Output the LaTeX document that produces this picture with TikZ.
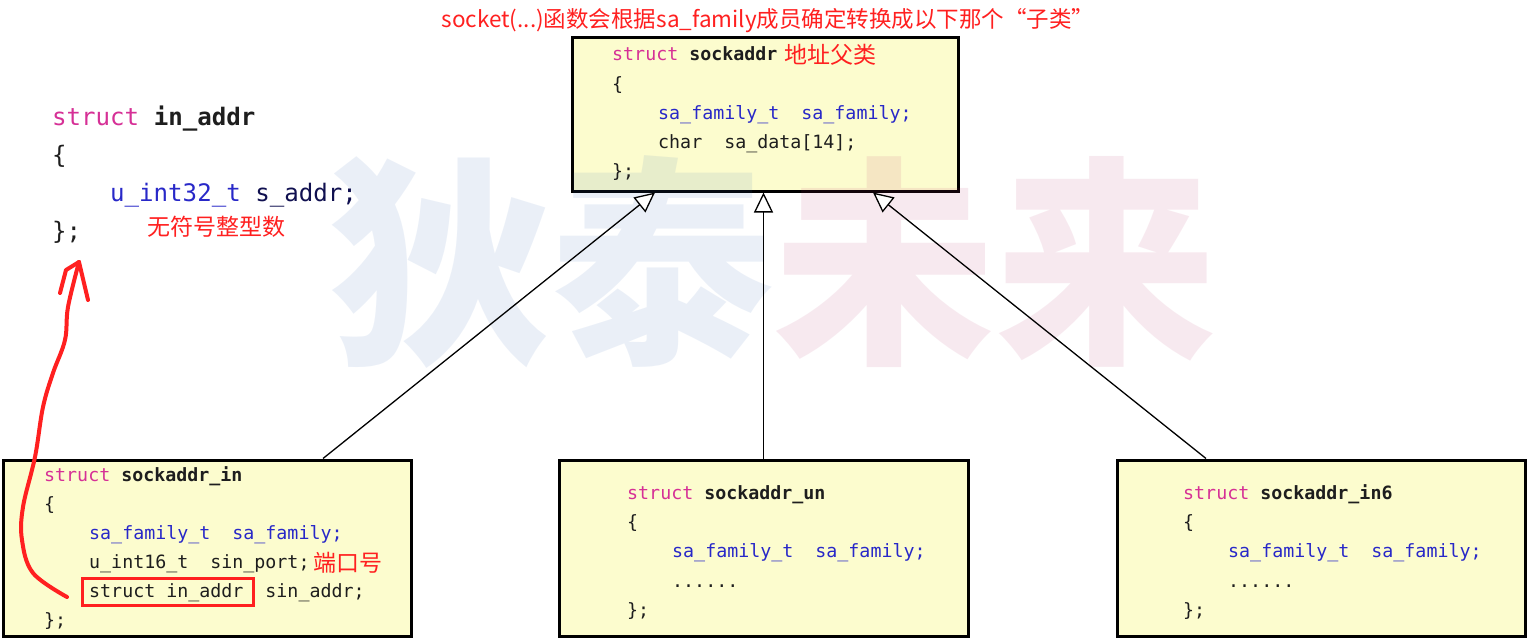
\documentclass[tikz,border=0pt]{standalone}
\usepackage{fontspec}
\setmonofont{DejaVu Sans Mono}
\newfontfamily\cjk{Noto Sans CJK SC}
\usetikzlibrary{arrows.meta,calc}
\definecolor{boxfill}{RGB}{252,252,206}
\definecolor{kw}{RGB}{214,48,150}
\definecolor{ty}{RGB}{40,40,200}
\definecolor{redmark}{RGB}{255,32,32}
\definecolor{wmblue}{RGB}{55,105,185}
\definecolor{wmpink}{RGB}{185,45,105}
\definecolor{navy}{RGB}{16,16,80}
\definecolor{codeblack}{RGB}{30,30,30}
\begin{document}
\begin{tikzpicture}[x=1pt,y=-1pt,
  classbox/.style={draw=black, line width=3pt, fill=boxfill, inner sep=0pt},
  code/.style={font=\ttfamily\fontsize{18.3}{20}\selectfont, text=codeblack, anchor=base west, inner sep=0pt},
  bigcode/.style={font=\ttfamily\fontsize{24.1}{28}\selectfont, text=codeblack, anchor=base west, inner sep=0pt},
  note/.style={font=\cjk\fontsize{23}{26}\selectfont, text=redmark, anchor=base west, inner sep=0pt},
  inherit/.style={draw=black, line width=1.3pt, -{Triangle[length=20pt,width=19pt,fill=white,line width=1.3pt]}},
  redline/.style={draw=redmark, line width=4pt, line cap=round, line join=round}]
\useasboundingbox (0,0) rectangle (1532,642);
\fill[white] (0,0) rectangle (1532,642);

% boxes
\node[classbox, minimum width=386pt, minimum height=153pt] (top) at (765,114.5) {};
\node[classbox, minimum width=408pt, minimum height=176pt] (bl) at (207,548) {};
\node[classbox, minimum width=409pt, minimum height=176pt] (mid) at (763.5,548) {};
\node[classbox, minimum width=408pt, minimum height=176pt] (br) at (1321,548) {};

% watermark
\node[font=\cjk\bfseries\fontsize{222}{222}\selectfont, text opacity=0.1, inner sep=0pt] (wm) at (773,262)
  {{\color{wmblue}狄泰}{\color{wmpink}未来}};

% title
\node[font=\cjk\fontsize{22.5}{26}\selectfont, text=redmark, anchor=base, inner sep=0pt] (title) at (768,28)
  {socket(...)函数会根据sa\_family成员确定转换成以下那个“子类”};

% top box text
\node[code] (t1) at (612,61) {\textcolor{kw}{struct} \textbf{sockaddr}};
\node[note] (t1n) at (784,64) {地址父类};
\node[code] (t2) at (612,90) {\{};
\node[code, text=ty] (t3) at (658,119) {sa\_family\_t\ \ sa\_family;};
\node[code] (t4) at (658,148) {char\ \ sa\_data[14];};
\node[code] (t5) at (612,177) {\};};

% left struct in_addr
\node[bigcode] (a1) at (52,125) {\textcolor{kw}{struct} \textbf{in\_addr}};
\node[bigcode] (a2) at (52,163) {\{};
\node[bigcode] (a3) at (110,201) {\textcolor{ty}{u\_int32\_t} \textcolor{navy}{s\_addr;}};
\node[bigcode] (a4) at (52,239) {\};};
\node[note] (a3n) at (147,235) {无符号整型数};

% bottom-left box
\node[code] (b1) at (44,481) {\textcolor{kw}{struct} \textbf{sockaddr\_in}};
\node[code] (b2) at (44,510) {\{};
\node[code, text=ty] (b3) at (89,539) {sa\_family\_t\ \ sa\_family;};
\node[code] (b4) at (89,568) {u\_int16\_t\ \ sin\_port;};
\node[note] (b4n) at (313,571) {端口号};
\node[code] (b5) at (89,597) {struct in\_addr\ \ sin\_addr;};
\node[code] (b6) at (44,626) {\};};
\draw[draw=redmark, line width=3pt] (82,578) rectangle (253,605);

% bottom-middle box
\node[code] (m1) at (627,499) {\textcolor{kw}{struct} \textbf{sockaddr\_un}};
\node[code] (m2) at (627,528) {\{};
\node[code, text=ty] (m3) at (672,557) {sa\_family\_t\ \ sa\_family;};
\node[code] (m4) at (672,587) {......};
\node[code] (m5) at (627,616) {\};};

% bottom-right box
\node[code] (r1) at (1183,499) {\textcolor{kw}{struct} \textbf{sockaddr\_in6}};
\node[code] (r2) at (1183,528) {\{};
\node[code, text=ty] (r3) at (1228,557) {sa\_family\_t\ \ sa\_family;};
\node[code] (r4) at (1228,587) {......};
\node[code] (r5) at (1183,616) {\};};

% inheritance connectors
\draw[inherit] ([xshift=116pt]bl.north) -- ([xshift=-110pt]top.south);
\draw[inherit] (mid.north) -- (mid.north |- top.south);
\draw[inherit] ([xshift=-115pt]br.north) -- ([xshift=108pt]top.south);

% red freehand arrow
\coordinate (rstart) at (67,597);
\coordinate (rtip) at (79,262);
\draw[redline] plot[smooth, tension=0.6] coordinates {(rstart) (33,573) (22,540) (23,507) (35,457) (43,407) (53,373) (65,340) (68,307) (rtip)};
\draw[redline] (rtip) -- (66,270) -- (60,293);
\draw[redline] (rtip) -- (88,300);
\end{tikzpicture}
\end{document}
